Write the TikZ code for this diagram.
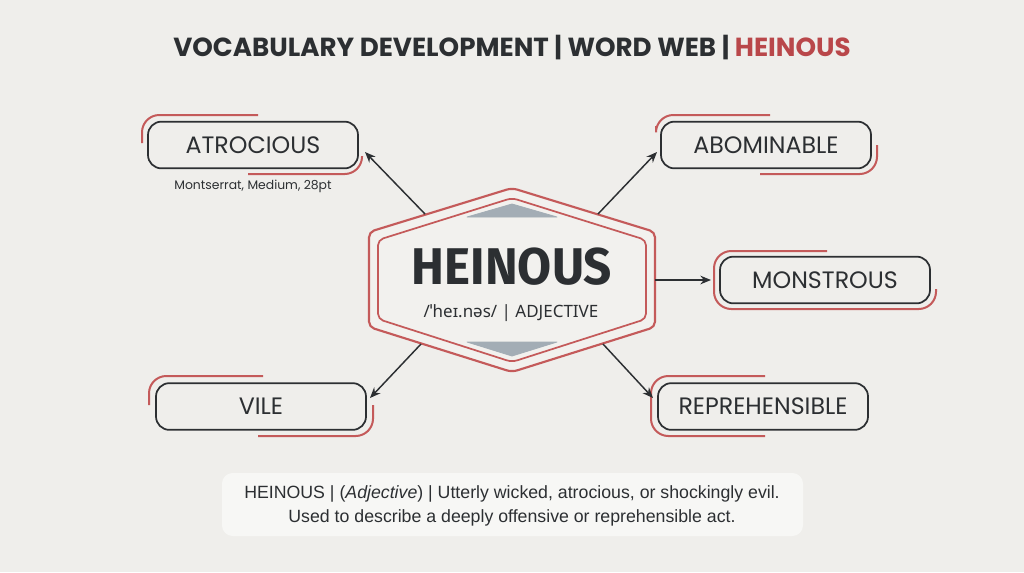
\documentclass[tikz,border=0pt]{standalone}
\usepackage{fontspec}
\setmainfont{Poppins}
\newfontfamily\hfont{Fira Sans}
\newfontfamily\ipafont{Noto Sans}
\newfontfamily\deffont{Liberation Sans}
\usetikzlibrary{arrows.meta,calc}
\definecolor{bg}{HTML}{EFEEEB}
\definecolor{ink}{HTML}{2C2F32}
\definecolor{redl}{HTML}{C45A5A}
\definecolor{redt}{HTML}{B9474A}
\definecolor{tri}{HTML}{A3ADB5}
\definecolor{defbg}{HTML}{F7F7F5}
\definecolor{hexin}{HTML}{F2F1EE}
\tikzset{
  wbox/.style={draw=ink, line width=1.3pt, rounded corners=10pt, minimum width=157.5pt, minimum height=35pt, inner sep=0pt, font=\fontsize{17.8pt}{19pt}\selectfont, text=ink},
  accent/.style={draw=redl, line width=1.5pt, rounded corners=13pt},
  hexline/.style={draw=redl, rounded corners=4pt, line join=round},
  arr/.style={draw=ink, line width=1.1pt, -{Stealth[length=8pt,width=6.5pt]}},
  tria/.style={fill=tri, draw=tri, line join=round, line width=0.6pt}
}
\begin{document}
\begin{tikzpicture}[x=0.75pt,y=-0.75pt]
\useasboundingbox (0,0) rectangle (1024,572);
\fill[bg] (0,0) rectangle (1024,572);

% title
\node[text=ink] (title) at (512,48) {\resizebox{508pt}{!}{\bfseries VOCABULARY DEVELOPMENT | WORD WEB | \textcolor{redt}{HEINOUS}}};

% hexagon
\draw[hexline, line width=1.6pt, fill=hexin] (512,188) -- (655,232) -- (655,327) -- (512,372) -- (369,327) -- (369,232) -- cycle;
\draw[hexline, line width=1.3pt] (512,198) -- (646,240) -- (646,319) -- (512,362) -- (378,319) -- (378,240) -- cycle;
\draw[tria] (467,217) -- (512,204) -- (557,217) -- cycle;
\draw[tria] (467,342) -- (512,356) -- (557,342) -- cycle;
\node[text=ink] (word) at (512,267) {\resizebox{150pt}{27.5pt}{\hfont\bfseries HEINOUS}};
\node[text=ink] (ipa) at (511,313) {\resizebox{131pt}{!}{\ipafont /ˈheɪ.nəs/ | ADJECTIVE}};

% word boxes
\node[wbox] (atro) at (253,145) {ATROCIOUS};
\node[wbox] (abom) at (766,145) {ABOMINABLE};
\node[wbox] (mons) at (825,280) {MONSTROUS};
\node[wbox] (vile) at (261,406.5) {VILE};
\node[wbox] (repr) at (763,406.5) {REPREHENSIBLE};
\node[text=ink, font=\fontsize{9.3pt}{11pt}\selectfont] (note) at (253,186) {Montserrat, Medium, 28pt};

% accents
\draw[accent] (142,143) -- (142,115) -- (258,115);
\draw[accent] (248,174) -- (362,174) -- (362,156);
\draw[accent] (656,126) -- (656,115) -- (770,115);
\draw[accent] (760,174) -- (877,174) -- (877,145);
\draw[accent] (827,251) -- (714,251) -- (714,309) -- (936,309) -- (936,289);
\draw[accent] (149,405) -- (149,376) -- (263,376);
\draw[accent] (258,436) -- (373,436) -- (373,405);
\draw[accent] (765,376) -- (651,376) -- (651,436) -- (765,436);

% connectors
\coordinate (hA) at (425,214);
\coordinate (hB) at (598,214);
\coordinate (hM) at (655,280);
\coordinate (hV) at (421,344);
\coordinate (hR) at (603,344);
\coordinate (tA) at (365,152);
\coordinate (tB) at (657,152);
\coordinate (tM) at (711,280);
\coordinate (tV) at (370,398);
\coordinate (tR) at (653,398);
\draw[arr] (hA) -- (tA);
\draw[arr] (hB) -- (tB);
\draw[arr] (hM) -- (tM);
\draw[arr] (hV) -- (tV);
\draw[arr] (hR) -- (tR);

% definition
\fill[defbg, rounded corners=8pt] (222,473) rectangle (803,536);
\node[text=ink, align=center, font=\deffont\fontsize{13.3pt}{18pt}\selectfont] (def) at (512,505.5) {HEINOUS | (\textit{Adjective}) | Utterly wicked, atrocious, or shockingly evil.\\Used to describe a deeply offensive or reprehensible act.};
\end{tikzpicture}
\end{document}
